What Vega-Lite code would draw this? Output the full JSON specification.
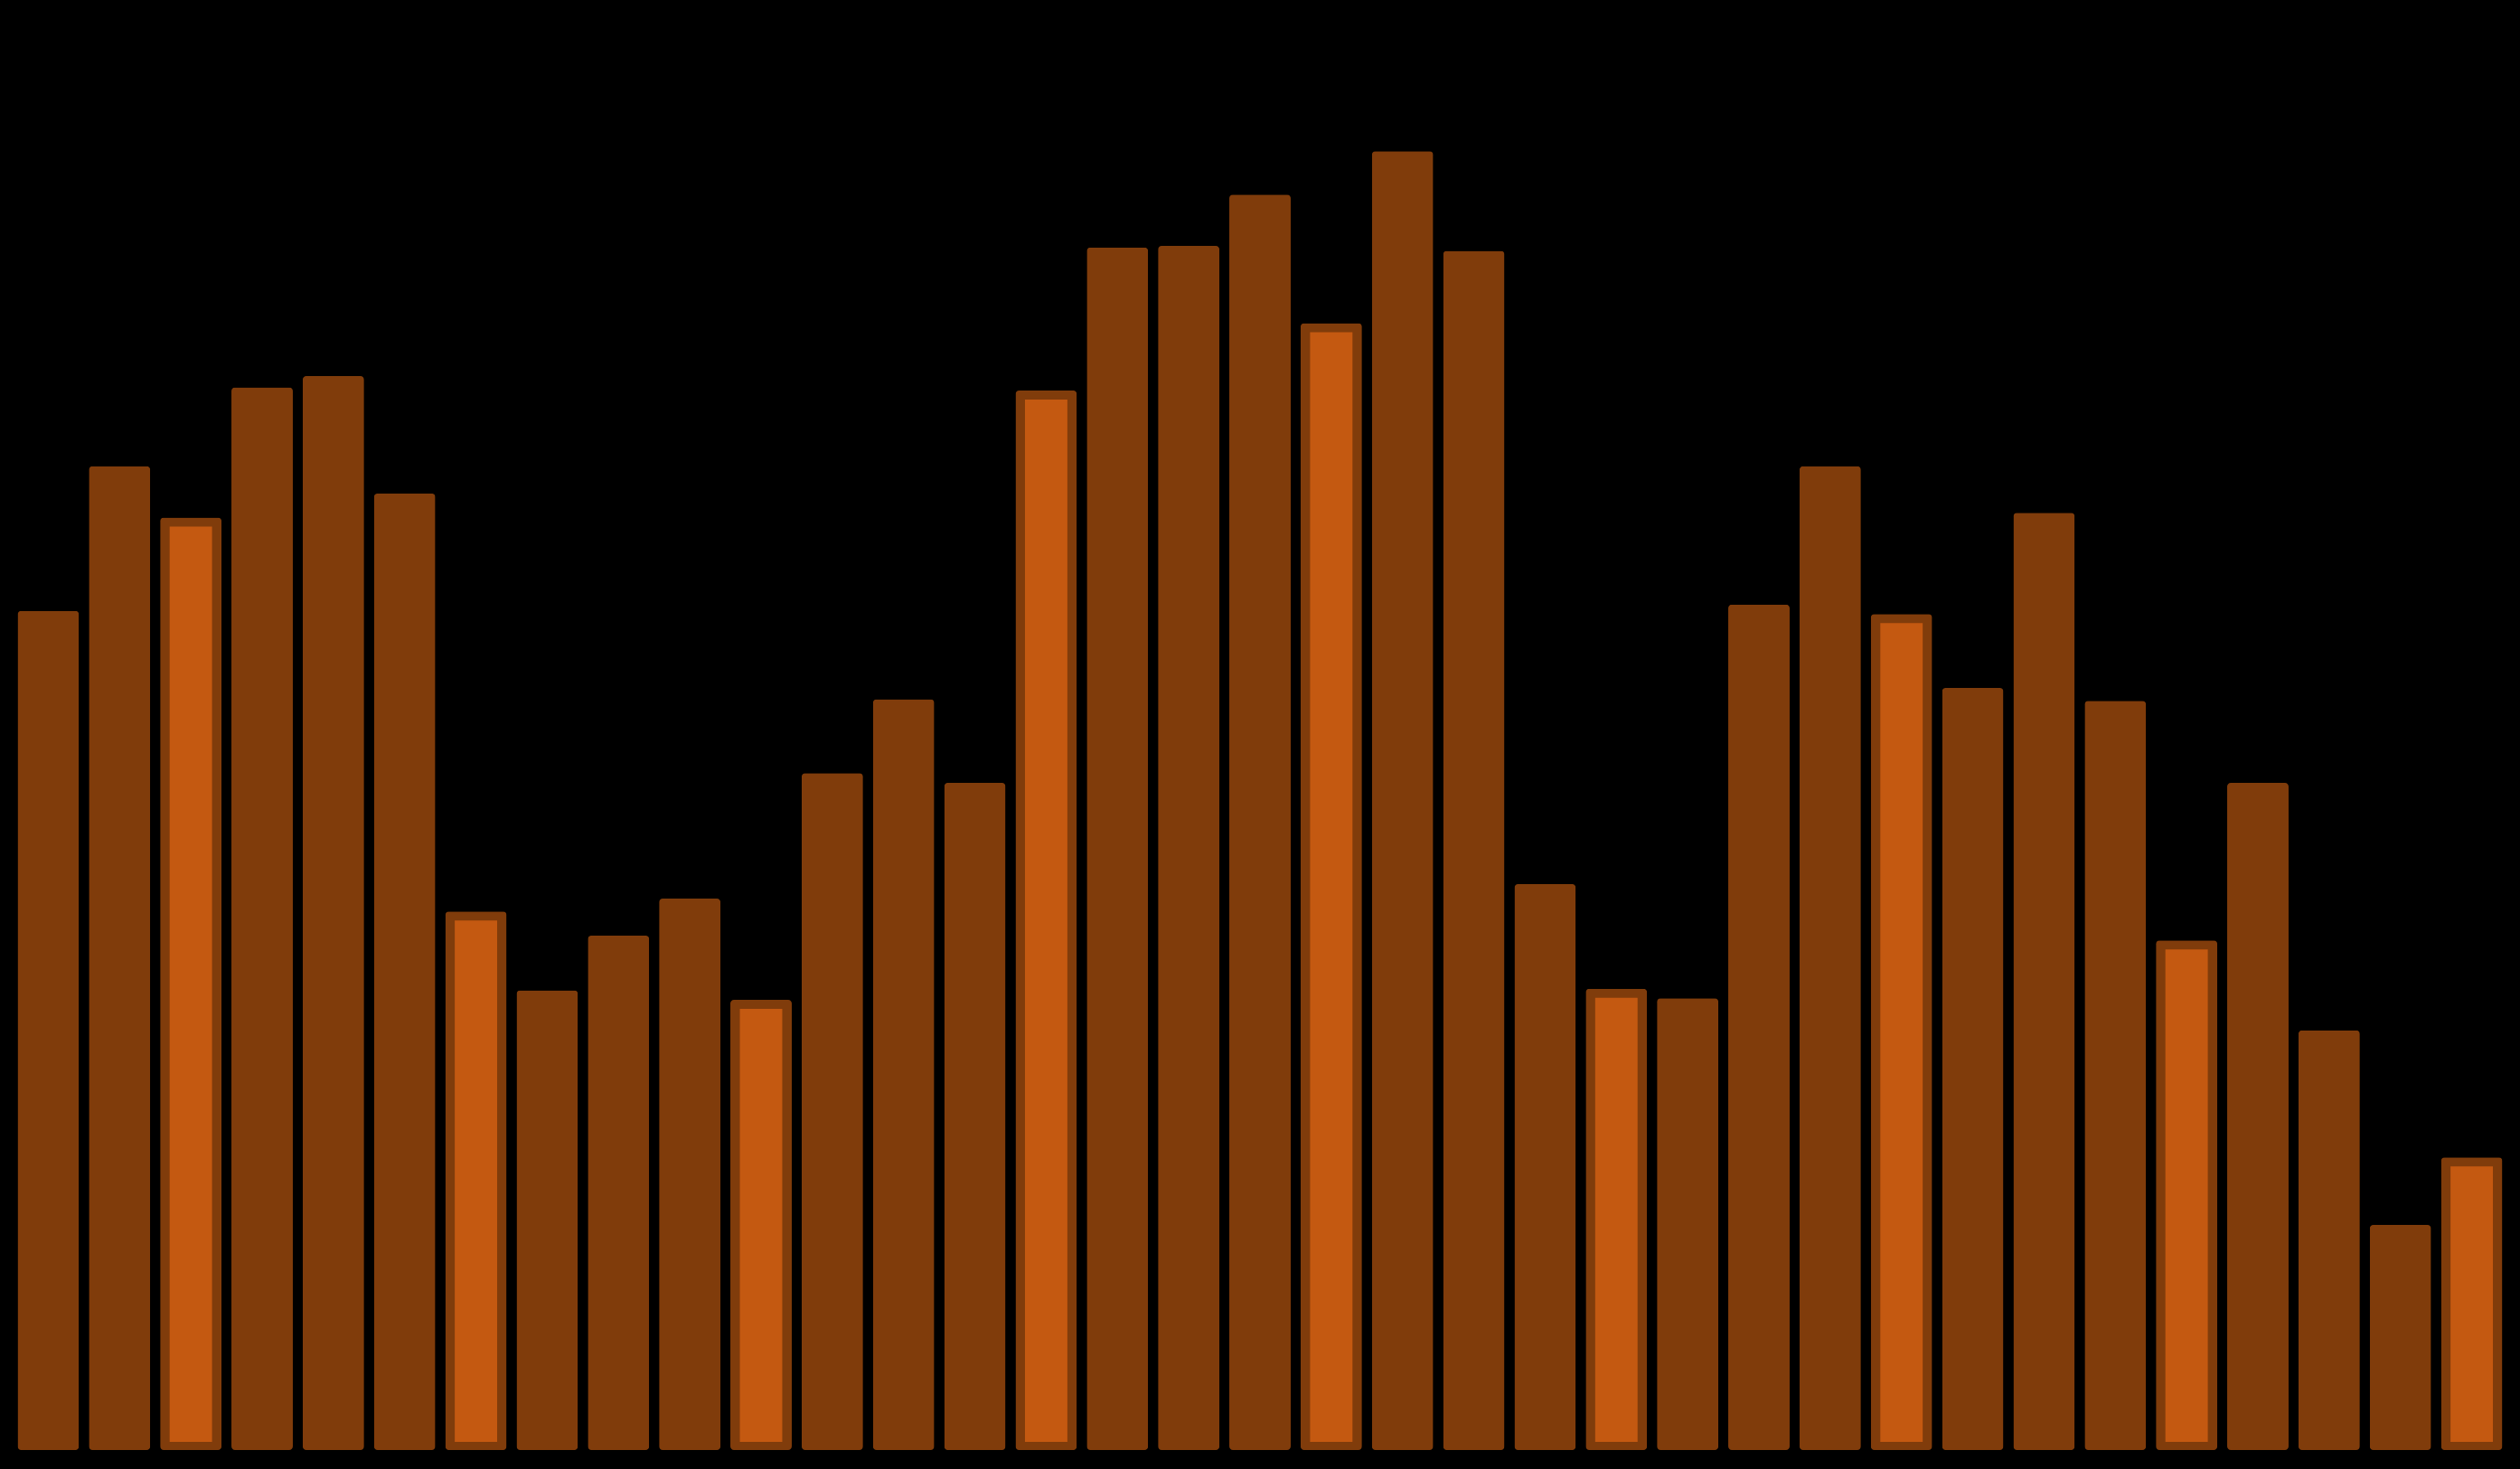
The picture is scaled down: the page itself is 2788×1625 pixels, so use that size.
{
  "$schema": "https://vega.github.io/schema/vega-lite/v6.json",
  "width": 2760,
  "height": 1604,
  "autosize": {"type": "none"},
  "padding": {"left": 14, "top": 0, "right": 14, "bottom": 21},
  "background": "#000000",
  "config": {"view": {"stroke": null}},
  "data": {
    "values": [
      {"i": 1, "v": 522, "hl": false},
      {"i": 2, "v": 612, "hl": false},
      {"i": 3, "v": 580, "hl": true},
      {"i": 4, "v": 661, "hl": false},
      {"i": 5, "v": 668, "hl": false},
      {"i": 6, "v": 595, "hl": false},
      {"i": 7, "v": 335, "hl": true},
      {"i": 8, "v": 286, "hl": false},
      {"i": 9, "v": 320, "hl": false},
      {"i": 10, "v": 343, "hl": false},
      {"i": 11, "v": 280, "hl": true},
      {"i": 12, "v": 421, "hl": false},
      {"i": 13, "v": 467, "hl": false},
      {"i": 14, "v": 415, "hl": false},
      {"i": 15, "v": 659, "hl": true},
      {"i": 16, "v": 748, "hl": false},
      {"i": 17, "v": 749, "hl": false},
      {"i": 18, "v": 781, "hl": false},
      {"i": 19, "v": 701, "hl": true},
      {"i": 20, "v": 808, "hl": false},
      {"i": 21, "v": 746, "hl": false},
      {"i": 22, "v": 352, "hl": false},
      {"i": 23, "v": 287, "hl": true},
      {"i": 24, "v": 281, "hl": false},
      {"i": 25, "v": 526, "hl": false},
      {"i": 26, "v": 612, "hl": false},
      {"i": 27, "v": 520, "hl": true},
      {"i": 28, "v": 474, "hl": false},
      {"i": 29, "v": 583, "hl": false},
      {"i": 30, "v": 466, "hl": false},
      {"i": 31, "v": 317, "hl": true},
      {"i": 32, "v": 415, "hl": false},
      {"i": 33, "v": 261, "hl": false},
      {"i": 34, "v": 140, "hl": false},
      {"i": 35, "v": 182, "hl": true}
    ]
  },
  "encoding": {
    "x": {"field": "i", "type": "ordinal", "axis": null, "scale": {"paddingInner": 0.138, "paddingOuter": 0.069}}
  },
  "layer": [
    {
      "mark": {"type": "bar", "color": "#803c0b", "cornerRadius": 4},
      "encoding": {
        "y": {"field": "v", "type": "quantitative", "axis": null, "scale": {"domain": [0, 902], "nice": false, "zero": true}}
      }
    },
    {
      "transform": [{"filter": "datum.hl"}],
      "mark": {"type": "bar", "color": "#c45911", "width": {"band": 0.69}},
      "encoding": {
        "y": {"field": "v", "type": "quantitative", "axis": null, "stack": null, "scale": {"domain": [5.62, 907.62], "nice": false, "zero": false}},
        "y2": {"datum": 10.68}
      }
    }
  ],
  "resolve": {"scale": {"y": "independent"}}
}
